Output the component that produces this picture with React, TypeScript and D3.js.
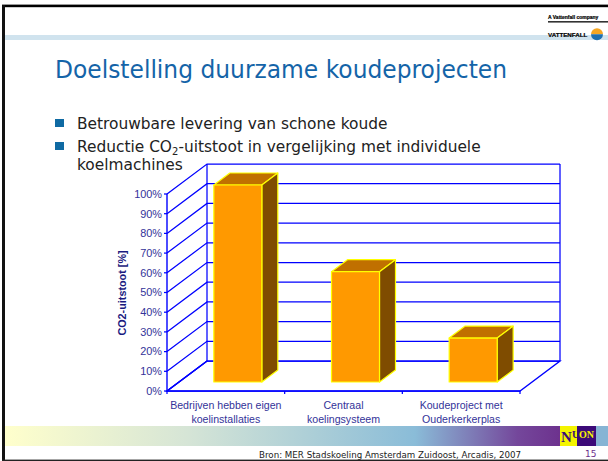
import React from "react";
import * as d3 from "d3";

const categories = ["Bedrijven hebben eigen|koelinstallaties", "Centraal|koelingsysteem", "Koudeproject met|Ouderkerkerplas"];
const co2Values = [100, 56, 22.3];
const yTicks = [0, 10, 20, 30, 40, 50, 60, 70, 80, 90, 100];
const bullets = ["Betrouwbare levering van schone koude"];
const gradientStops: [number, string][] = [
  [0, "#ffffcc"],
  [0.3, "#d6e5d6"],
  [0.68, "#8abcd8"],
  [0.85, "#74479b"],
  [0.93, "#6c2f8c"],
  [1, "#3a0a74"],
];

const W = 608;
const H = 461;
const x = d3.scaleBand<string>().domain(categories).range([167, 520]);
const y = d3.scaleLinear().domain([0, 100]).range([391, 194]);
const DX = 40;
const DY = -30;
const barW = 48;
const BLUE = "#0000ff";
const LABEL = "#333399";
const ARIAL = "'Liberation Sans', Arial, sans-serif";
const VERDANA = "'DejaVu Sans', Verdana, sans-serif";

const poly = (pts: [number, number][]) => d3.line()(pts) + "Z";

export default function App() {
  const [x0, x1] = x.range();
  const yBase = y(0);
  const floorPts: [number, number][] = [[x0, yBase], [x0 + DX, yBase + DY], [x1 + DX, yBase + DY], [x1, yBase]];
  return (
    <svg width={W} height={H} viewBox={`0 0 ${W} ${H}`} style={{ position: "absolute", left: 0, top: 0, display: "block", background: "#fff" }}>
      <defs>
        <linearGradient id="band" x1="0" x2="1" y1="0" y2="0">
          {gradientStops.map(([o, c]) => <stop key={o} offset={o} stopColor={c} />)}
        </linearGradient>
      </defs>

      {/* slide frame */}
      <rect x={2} y={4} width={606} height={1.2} fill="#999" />
      <rect x={2} y={5} width={606} height={2.2} fill="#000" />
      <rect x={2} y={5} width={3} height={456} fill="#111" />
      <rect x={2} y={459.6} width={606} height={1.4} fill="#222" />
      <rect x={5} y={35} width={603} height={5} fill="#d0e3ee" />

      {/* corporate logo */}
      <text x={548} y={18.5} fontFamily={ARIAL} fontSize={5} fontWeight="bold" fill="#000" stroke="#000" strokeWidth={0.2}>A Vattenfall company</text>
      <rect x={548} y={21} width={60} height={1.6} fill="#333" />
      <text x={548} y={36.6} fontFamily={ARIAL} fontSize={6.2} fontWeight="bold" fill="#000" stroke="#000" strokeWidth={0.2}>VATTENFALL</text>
      <path d="M591 34.3 A6 6 0 0 1 603 34.3 Z" fill="#f5a623" />
      <path d="M591 34.3 A6 6 0 0 0 603 34.3 Z" fill="#1d6fb0" />

      {/* title and bullets */}
      <text x={55} y={78} fontFamily={VERDANA} fontSize={24} fill="#1464a8" textLength={452} lengthAdjust="spacingAndGlyphs">Doelstelling duurzame koudeprojecten</text>
      <rect x={55} y={119} width={9} height={8} fill="#0f6aa3" />
      <rect x={55} y={142} width={9} height={8} fill="#0f6aa3" />
      <text x={77} y={129} fontFamily={VERDANA} fontSize={15.4} fill="#222">{bullets[0]}</text>
      <text x={77} y={152} fontFamily={VERDANA} fontSize={15.4} fill="#222">
        Reductie CO<tspan fontSize={10} dy={3}>2</tspan><tspan dy={-3}>-uitstoot in vergelijking met individuele</tspan>
      </text>
      <text x={77} y={169.5} fontFamily={VERDANA} fontSize={15.4} fill="#222">koelmachines</text>

      {/* bottom band */}
      <rect x={5} y={426} width={603} height={20} fill="url(#band)" />
      <rect x={596} y={426} width={12} height={20} fill="#86b4d4" />
      <rect x={560} y={426} width={17} height={20} fill="#f4f400" />
      <rect x={577} y={426} width={19} height={20} fill="#3c0a78" />
      <text x={561} y={441.5} fontFamily="'Liberation Serif', serif" fontWeight="bold" fontSize={15} fill="#3c0a78">N</text>
      <text x={572} y={438} fontFamily="'Liberation Serif', serif" fontWeight="bold" fontSize={10} fill="#3c0a78">U</text>
      <text x={579} y={438} fontFamily="'Liberation Serif', serif" fontWeight="bold" fontSize={10} fill="#f4f400">ON</text>
      <text x={259} y={458} fontFamily={VERDANA} fontSize={8.7} fill="#222">Bron: MER Stadskoeling Amsterdam Zuidoost, Arcadis, 2007</text>
      <text x={585} y={456.5} fontFamily={VERDANA} fontSize={9} fill="#6c2f8c">15</text>

      {/* 3D walls and gridlines */}
      <g stroke={BLUE} strokeWidth={1.25} fill="none">
        {yTicks.map((t) => (
          <path key={t} d={`M${x0},${y(t)}L${x0 + DX},${y(t) + DY}L${x1 + DX},${y(t) + DY}`} />
        ))}
        {yTicks.map((t) => <path key={"t" + t} d={`M${x0 - 3},${y(t)}H${x0}`} />)}
        <path d={`M${x0},${y(0)}V${y(100)}`} strokeWidth={1.4} />
        <path d={`M${x0 + DX},${y(0) + DY}V${y(100) + DY}`} />
        <path d={`M${x1 + DX},${y(0) + DY}V${y(100) + DY}`} />
        <path d={poly(floorPts)} />
        <path d={`M${x0},${yBase}H${x1}`} strokeWidth={1.4} />
        <path d={`M${x0},${yBase}L${x0 + DX},${yBase + DY}`} strokeWidth={1.4} />
        {[...categories.map((c) => x(c)!), x1].map((v) => <path key={v} d={`M${v},${yBase}v3`} />)}
      </g>

      {/* bars */}
      {categories.map((c, i) => {
        const left = x(c)! + x.bandwidth() / 2 - barW / 2 + DX * 0.3;
        const right = left + barW;
        const bottom = y(0) + DY * 0.3;
        const top = bottom - (y(0) - y(co2Values[i]));
        const dx = DX * 0.4;
        const dy = DY * 0.4;
        return (
          <g key={c} stroke="#ffff00" strokeWidth={1.2} strokeLinejoin="round">
            <path d={poly([[left, top], [left + dx, top + dy], [right + dx, top + dy], [right, top]])} fill="#c07000" />
            <path d={poly([[right, top], [right + dx, top + dy], [right + dx, bottom + dy], [right, bottom]])} fill="#7f4c00" />
            <rect x={left} y={top} width={barW} height={bottom - top} fill="#ff9900" />
          </g>
        );
      })}

      {/* axis text */}
      <g fontFamily={ARIAL} fontSize={10.6} fill={LABEL}>
        {yTicks.map((t) => (
          <text key={t} x={162} y={y(t) + 3.8} textAnchor="end" fontSize={10.9}>{t}%</text>
        ))}
        {categories.map((c) => c.split("|").map((line, j) => (
          <text key={line} x={x(c)! + x.bandwidth() / 2} y={409 + j * 14} textAnchor="middle">{line}</text>
        )))}
        <text transform="translate(125.5,293) rotate(-90)" textAnchor="middle" fontWeight="bold" fontSize={10.8} fill="#1a1a80">CO2-uitstoot [%]</text>
      </g>
    </svg>
  );
}
